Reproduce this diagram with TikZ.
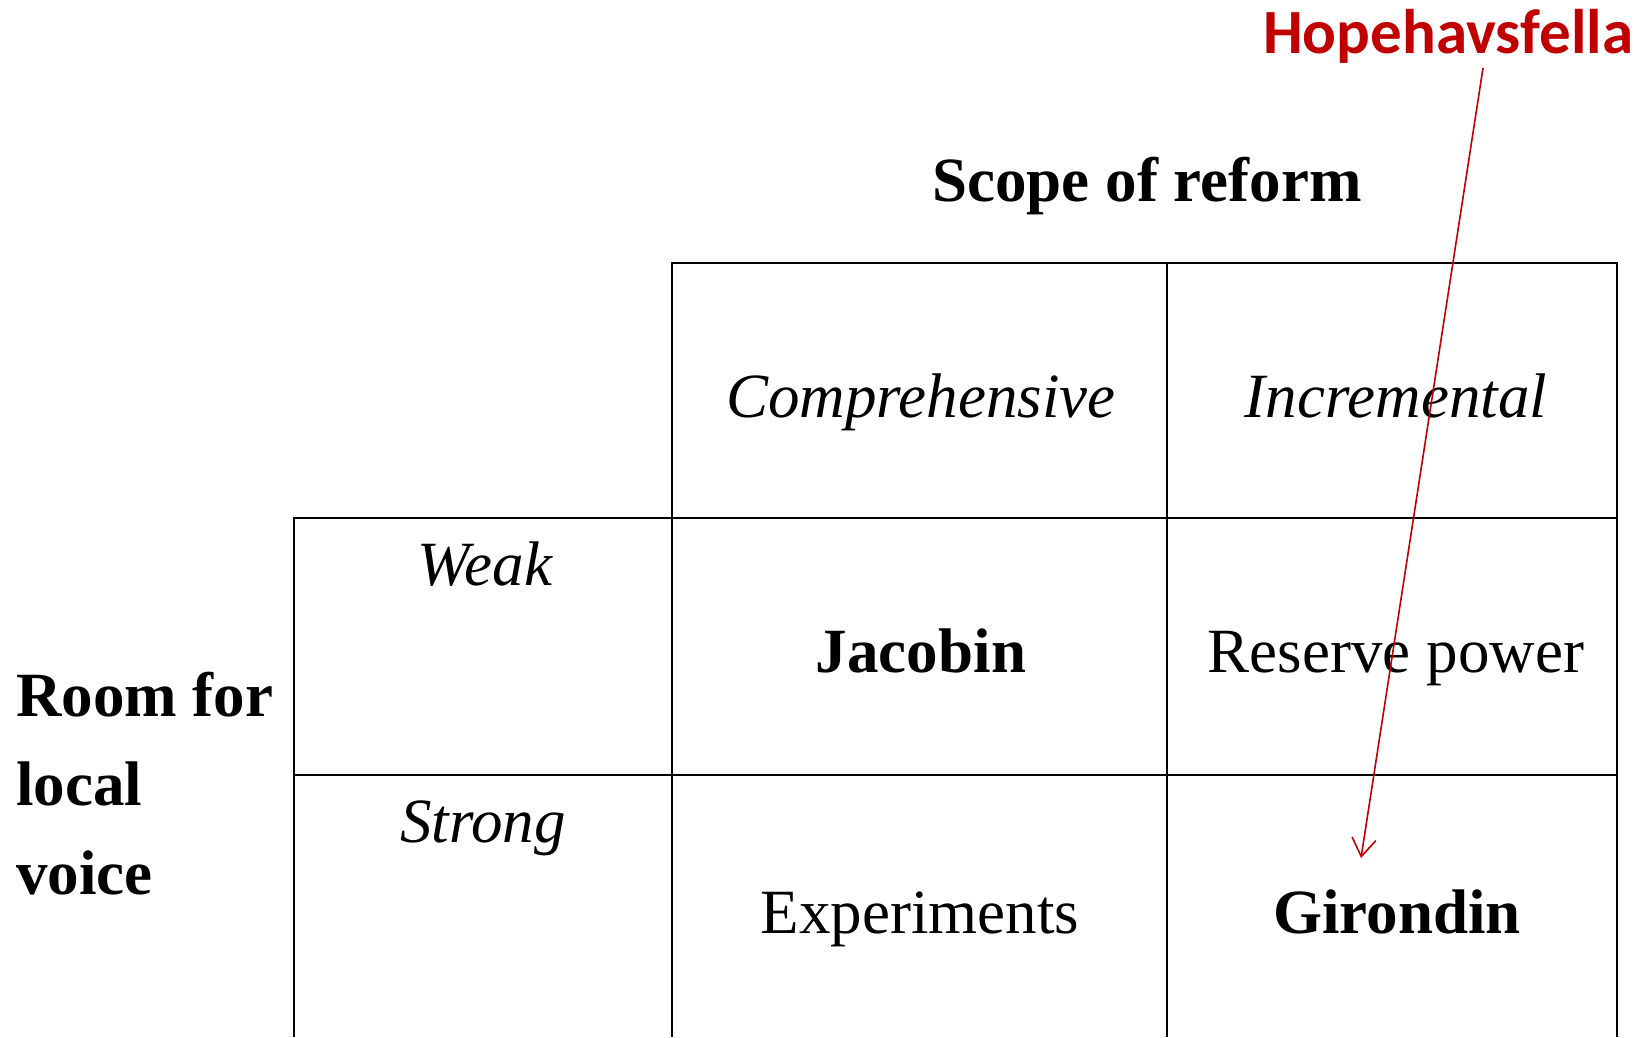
\documentclass[tikz,border=0pt]{standalone}
\usepackage{fontspec}
\setmainfont{Liberation Serif}
\newfontfamily\calibri{Carlito}
\usepackage{tikz}
\usetikzlibrary{arrows.meta,positioning}
\definecolor{notered}{RGB}{192,0,0}
\tikzset{
  % 表格线
  gridline/.style={line width=2.7pt, black},
  % 基础文字
  cell/.style={anchor=base, inner sep=0pt, font=\fontsize{63}{75}\selectfont},
  % 粗体标题
  head/.style={cell, font=\fontsize{63}{75}\selectfont\bfseries},
  % 斜体标签
  lab/.style={cell, font=\fontsize{63}{75}\selectfont\itshape},
  % 红色批注
  note/.style={cell, text=notered, font=\fontsize{63}{75}\selectfont\calibri\bfseries},
  % 红色箭头
  notearr/.style={-{Straight Barb[length=18pt, width=24pt, line width=1.6pt]}, line width=1.6pt, notered},
}
\begin{document}
\begin{tikzpicture}[x=1pt, y=-1pt]
        \useasboundingbox (0,0) rectangle (1651,1037);

        % 表格
        \draw[gridline] (672,1037) -- (672,263) -- (1617,263) -- (1617,1037);
        \draw[gridline] (1167,263) -- (1167,1037);
        \draw[gridline] (294,1037) -- (294,518) -- (1617,518);
        \draw[gridline] (294,775) -- (1617,775);

        % 标题
        \node[head] (scope) at (1147,201) {Scope of reform};
        \node[head, anchor=base west] (room) at (16,716) {Room for};
        \node[head, anchor=base west] (local) at (16,805) {local};
        \node[head, anchor=base west] (voice) at (16,894) {voice};

        % 列与行标签
        \node[lab] (comp) at (921,417) {Comprehensive};
        \node[lab] (incr) at (1396,417) {Incremental};
        \node[lab] (weak) at (485,585) {Weak};
        \node[lab] (strong) at (483,842) {Strong};

        % 单元格
        \node[head] (jacobin) at (921,672) {Jacobin};
        \node[cell] (reserve) at (1396,672) {Reserve power};
        \node[cell] (exper) at (920,933) {Experiments};
        \node[head] (girondin) at (1397,933) {Girondin};

        % 批注
        \node[note] (hope) at (1448,53) {Hopehavsfella};
        \coordinate (hopefoot) at (1483,68);
        \coordinate (tip) at (1361,858);
        \draw[notearr] (hopefoot) -- (tip);
    \end{tikzpicture}
\end{document}
